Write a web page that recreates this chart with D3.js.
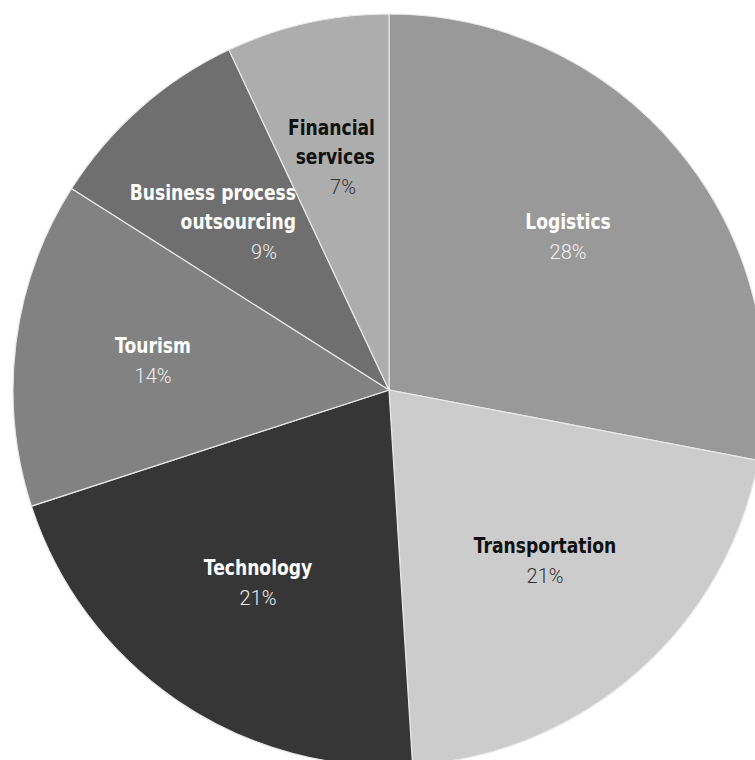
<!DOCTYPE html>
<html>
<head>
<meta charset="utf-8">
<script src="https://cdn.jsdelivr.net/npm/d3@7"></script>
<style>
  html, body { margin: 0; padding: 0; background: #ffffff; }
  svg { display: block; }
</style>
</head>
<body>
<div id="chart"></div>
<script>
// 数据
const categories = ["Logistics", "Transportation", "Technology", "Tourism", "Business process outsourcing", "Financial services"];
const shares = [28, 21, 21, 14, 9, 7];
const labelLines = [["Logistics"], ["Transportation"], ["Technology"], ["Tourism"], ["Business process", "outsourcing"], ["Financial", "services"]];

// 样式
const fills = ["#999999", "#cccccc", "#363636", "#828282", "#6f6f6f", "#adadad"];
const textFills = ["#ffffff", "#111111", "#ffffff", "#ffffff", "#ffffff", "#111111"];
const pctFills = ["#f0f0f0", "#333333", "#eeeeee", "#eeeeee", "#eeeeee", "#333333"];
// 标签位置（相对圆心）：[x, 第一行基线y, 对齐, 百分比x]
const labelPos = [
    [179, -161, "middle", 179],
    [156, 163, "middle", 156],
    [-131, 185, "middle", -131],
    [-236, -37, "middle", -236],
    [-93, -190, "end", -125],
    [-14, -255, "end", -46]
];

const width = 755, height = 760;
const cx = 389, cy = 390, radius = 376;

const svg = d3.select("#chart").append("svg")
    .attr("width", width).attr("height", height)
    .attr("viewBox", `0 0 ${width} ${height}`);

const g = svg.append("g").attr("transform", `translate(${cx}, ${cy})`);

const pie = d3.pie().sort(null).value(d => d.value);
const arc = d3.arc().innerRadius(0).outerRadius(radius);

const pieData = pie(categories.map((c, i) => ({ name: c, value: shares[i], i })));

g.selectAll("path.slice").data(pieData).enter().append("path")
    .attr("class", "slice")
    .attr("d", arc)
    .attr("fill", d => fills[d.data.i])
    .attr("stroke", "#e8e8e8")
    .attr("stroke-width", 1.2);

const fontFam = "'DejaVu Sans', sans-serif";
const lineH = 29;

pieData.forEach(d => {
    const i = d.data.i;
    const [lx, ly, anchor, px] = labelPos[i];
    const lines = labelLines[i];
    lines.forEach((t, k) => {
        g.append("text")
            .attr("transform", `translate(${lx}, ${ly + k * lineH}) scale(0.78, 1)`)
            .attr("text-anchor", anchor)
            .attr("font-family", fontFam)
            .attr("font-weight", "bold")
            .attr("font-size", 22)
            .attr("fill", textFills[i])
            .text(t);
    });
    g.append("text")
        .attr("transform", `translate(${px}, ${ly + (lines.length - 1) * lineH + 30}) scale(0.95, 1)`)
        .attr("text-anchor", "middle")
        .attr("font-family", "'Roboto', 'Liberation Sans', sans-serif")
        .attr("font-weight", 300)
        .attr("font-size", 21)
        .attr("fill", pctFills[i])
        .text(d3.format("d")(d.data.value) + "%");
});
</script>
</body>
</html>
